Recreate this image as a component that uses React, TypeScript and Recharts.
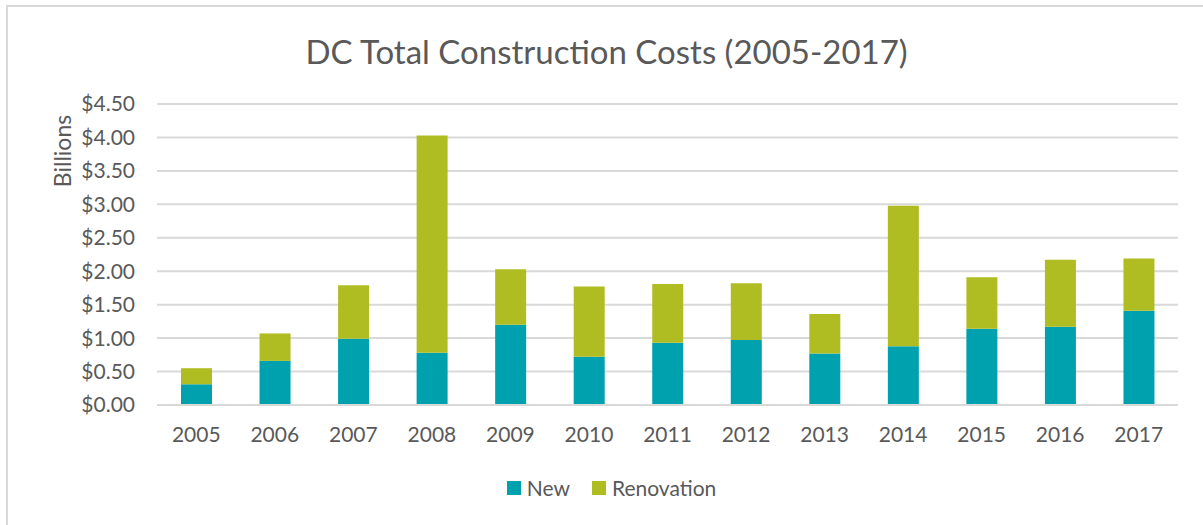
import { BarChart, Bar, XAxis, YAxis, CartesianGrid, Legend } from "recharts"

const years = ["2005", "2006", "2007", "2008", "2009", "2010", "2011", "2012", "2013", "2014", "2015", "2016", "2017"]
const newCosts = [0.31, 0.66, 0.99, 0.78, 1.2, 0.72, 0.93, 0.97, 0.77, 0.88, 1.14, 1.17, 1.41]
const renovationCosts = [0.24, 0.41, 0.8, 3.25, 0.83, 1.05, 0.88, 0.85, 0.59, 2.1, 0.77, 1.0, 0.78]
const yTicks = [0, 0.5, 1, 1.5, 2, 2.5, 3, 3.5, 4, 4.5]

const data = years.map((year, i) => ({
    year,
    newCost: newCosts[i],
    renovation: renovationCosts[i],
}))

const FONT = "Lato, 'Open Sans', sans-serif"
const TEXT = "#595959"

function LegendContent(props: any) {
    const items = props.payload || []
    return (
        <div style={{ display: "flex", justifyContent: "center", alignItems: "center", fontFamily: FONT, fontSize: 21, color: TEXT }}>
            {items.map((it: any, i: number) => (
                <div key={it.value} style={{ display: "flex", alignItems: "center", marginLeft: i ? 22 : 0 }}>
                    <span style={{ width: 14, height: 14, background: it.color, display: "inline-block", marginRight: 6 }} />
                    <span>{it.value}</span>
                </div>
            ))}
        </div>
    )
}

export default function App() {
    return (
        <div style={{ position: "absolute", left: 0, top: 0, width: 1203, height: 525, background: "#fff", fontFamily: FONT }}>
            <div style={{ position: "absolute", left: 6, top: 5, width: 1210, height: 540, border: "2px solid #d9d9d9", boxSizing: "border-box" }} />
            <div style={{ position: "absolute", left: 0, top: 26, width: 1213, textAlign: "center", fontSize: 33, color: TEXT, lineHeight: "50px" }}>
                DC Total Construction Costs (2005-2017)
            </div>
            <BarChart
                width={1203}
                height={525}
                data={data}
                barSize={31}
                margin={{ top: 104, right: 25, left: 82, bottom: 25 }}
                style={{ position: "absolute", left: 0, top: 0 }}>

                <CartesianGrid vertical={false} stroke="#d9d9d9" strokeWidth={2} />

                <XAxis
                    dataKey="year"
                    height={70}
                    tick={{ fill: TEXT, fontSize: 21, fontFamily: FONT }}
                    axisLine={{ stroke: "#d9d9d9", strokeWidth: 2 }}
                    tickLine={false}
                    tickMargin={16} />

                <YAxis
                    width={75}
                    domain={[0, 4.5]}
                    ticks={yTicks}
                    interval={0}
                    tick={{ fill: TEXT, fontSize: 21, fontFamily: FONT }}
                    axisLine={false}
                    tickLine={false}
                    tickMargin={16}
                    tickFormatter={(v) => `$${Number(v).toFixed(2)}`}
                    label={{
                        content: (p: any) => {
                            const vb = p.viewBox || {}
                            const cx = vb.x - 20
                            const cy = vb.y + 47
                            return (
                                <text x={cx} y={cy} transform={`rotate(-90 ${cx} ${cy})`} textAnchor="middle"
                                    dominantBaseline="central" fill={TEXT} fontSize={23} fontFamily={FONT}>
                                    Billions
                                </text>
                            )
                        }
                    }} />

                <Legend verticalAlign="bottom" content={<LegendContent />} wrapperStyle={{ left: 10, width: 1203 }} />

                <Bar dataKey="newCost" name="New" stackId="a" fill="#00A1AF" isAnimationActive={false} />
                <Bar dataKey="renovation" name="Renovation" stackId="a" fill="#AFBD22" isAnimationActive={false} />
            </BarChart>
        </div>
    )
}
